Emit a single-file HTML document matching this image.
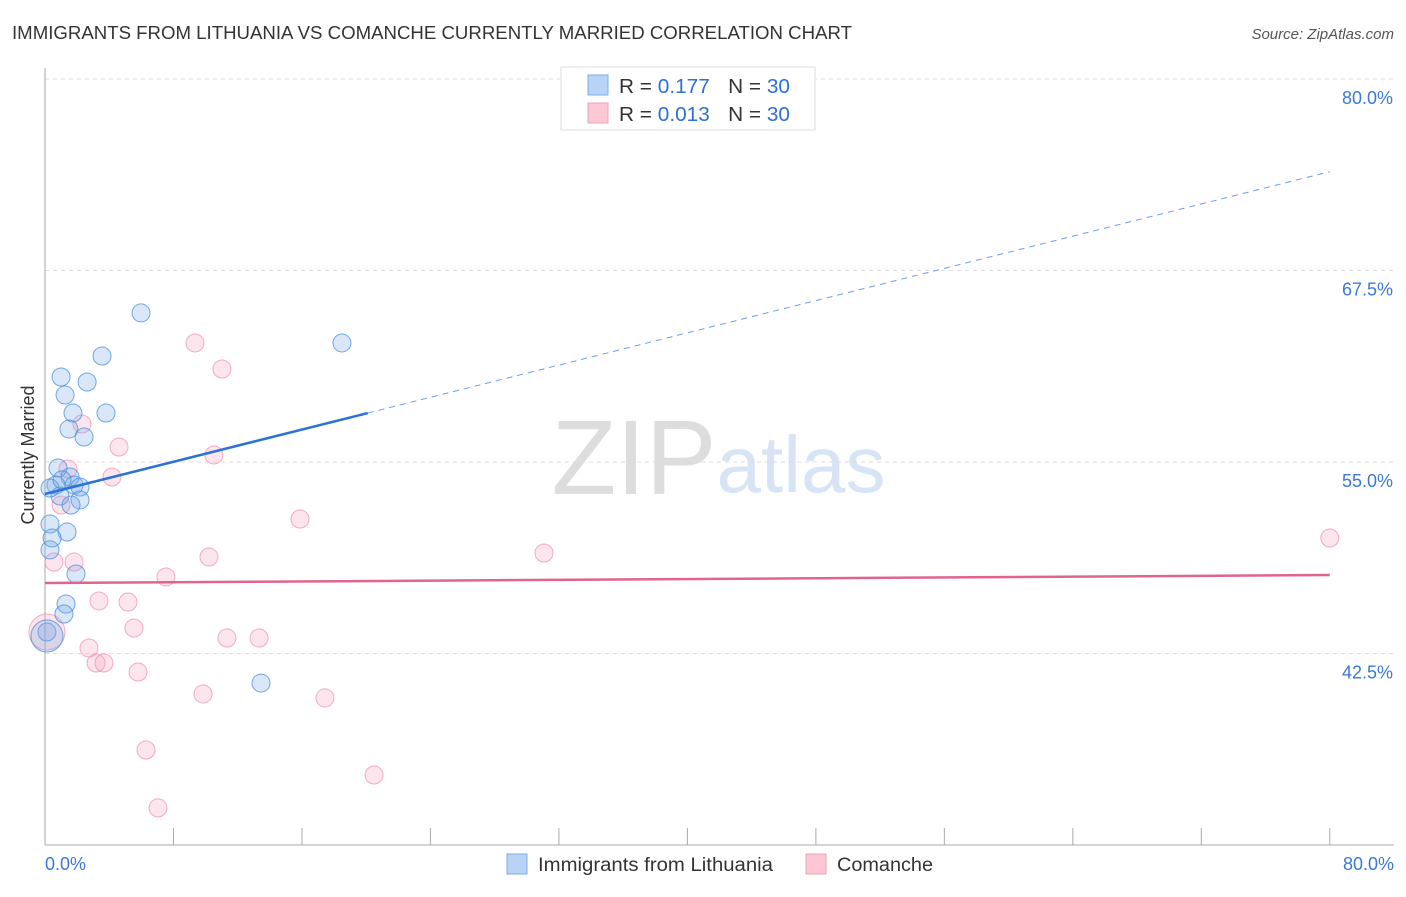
<!DOCTYPE html>
<html><head><meta charset="utf-8"><style>
body{margin:0;background:#fff;font-family:"Liberation Sans",sans-serif}
svg text{font-family:"Liberation Sans",sans-serif}
</style></head><body>
<svg id="c" width="1406" height="892" xmlns="http://www.w3.org/2000/svg">
<text x="12" y="39" font-size="18" fill="#333" textLength="840" lengthAdjust="spacingAndGlyphs">IMMIGRANTS FROM LITHUANIA VS COMANCHE CURRENTLY MARRIED CORRELATION CHART</text>
<text x="1394" y="39" font-size="15" fill="#555" font-style="italic" text-anchor="end">Source: ZipAtlas.com</text>
<text x="634" y="494" font-size="106" fill="#ddd" font-family="Liberation Serif" text-anchor="middle">ZIP</text>
<text x="801" y="492" font-size="80" fill="#d6e4f6" text-anchor="middle">atlas</text>
<g id="grid"></g><g id="axes"></g><g id="marks"></g>
<text transform="translate(34,455) rotate(-90)" font-size="18" fill="#333" text-anchor="middle">Currently Married</text>
<g>
<rect x="561" y="67" width="254" height="63" fill="#fff" stroke="#ddd"/>
<rect x="588" y="75" width="20" height="20" fill="#b8d3f5" stroke="#7aaee8"/>
<rect x="588" y="103" width="20" height="20" fill="#fcc8d6" stroke="#f0a0b8"/>
<text x="619" y="93" font-size="20" fill="#333" textLength="171" lengthAdjust="spacingAndGlyphs">R = <tspan fill="#2f6fd6">0.177</tspan>  <tspan dx="12">N = </tspan><tspan fill="#2f6fd6">30</tspan></text>
<text x="619" y="121" font-size="20" fill="#333" textLength="171" lengthAdjust="spacingAndGlyphs">R = <tspan fill="#2f6fd6">0.013</tspan>  <tspan dx="12">N = </tspan><tspan fill="#2f6fd6">30</tspan></text>
</g>
<g>
<rect x="507" y="854" width="20" height="20" fill="#b8d3f5" stroke="#7aaee8"/>
<text x="538" y="871" font-size="19" fill="#333" textLength="235" lengthAdjust="spacingAndGlyphs">Immigrants from Lithuania</text>
<rect x="806" y="854" width="20" height="20" fill="#fcc8d6" stroke="#f0a0b8"/>
<text x="837" y="871" font-size="19" fill="#333" textLength="96" lengthAdjust="spacingAndGlyphs">Comanche</text>
</g>
</svg>
<script>
const yTicks=[80,67.5,55,42.5];
const yTickLabels=["80.0%","67.5%","55.0%","42.5%"];
const xTickVals=[0,8,16,24,32,40,48,56,64,72,80];
const blueX=[5.98,3.55,1.00,2.62,1.25,1.74,3.80,1.49,2.43,0.81,1.56,0.68,1.81,2.18,0.93,2.18,1.62,0.31,1.37,0.44,0.31,1.93,1.31,1.18,0.12,18.49,13.45,0.31,1.06,0.12];
const blueY=[64.73,61.92,60.55,60.22,59.37,58.20,58.20,57.15,56.63,54.61,54.02,53.50,53.50,53.37,52.78,52.52,52.19,50.95,50.43,50.04,49.26,47.69,45.73,45.08,43.90,62.77,40.57,53.30,53.83,43.64];
const pinkX=[9.34,11.02,2.30,4.61,10.52,1.43,4.17,1.00,15.88,31.07,80.0,10.21,0.56,1.81,7.53,3.36,5.17,5.54,2.74,11.33,13.33,3.18,3.67,5.79,9.84,17.43,6.29,20.49,7.04,0.12];
const pinkY=[62.77,61.07,57.48,55.98,55.46,54.54,54.02,52.19,51.28,49.06,50.04,48.80,48.47,48.47,47.49,45.93,45.86,44.16,42.86,43.51,43.51,41.88,41.88,41.29,39.86,39.60,36.20,34.57,32.42,43.90];
const blueTrend=[52.91,0.263];
const pinkTrend=[47.1,0.0065];
const blueSolidEnd=20.1;
const X=v=>45+v*16.06, Y=v=>79+(80-v)*15.32;
const NS="http://www.w3.org/2000/svg";
function mk(p,t,a){const e=document.createElementNS(NS,t);for(const k in a)e.setAttribute(k,a[k]);document.getElementById(p).appendChild(e);return e;}
yTicks.forEach((v,i)=>{
 const g=mk('grid','line',{x1:45,x2:1394,y1:Y(v),y2:Y(v),stroke:'#ddd','stroke-dasharray':'4,4'});
 
 
 const t=mk('grid','text',{x:1393,y:Y(v)+25,'font-size':18,fill:'#3b78d8','text-anchor':'end'});
 t.textContent=yTickLabels[i];
 
 
});
let a=mk('axes','line',{x1:45,x2:45,y1:68,y2:845,stroke:'#aaa'});


a=mk('axes','line',{x1:45,x2:1394,y1:845,y2:845,stroke:'#aaa'});


xTickVals.forEach(v=>{const t=mk('axes','line',{x1:X(v),x2:X(v),y1:828,y2:845,stroke:'#aaa'});
 
 });
let l=mk('axes','text',{x:45,y:870,'font-size':18,fill:'#3b78d8'});l.textContent='0.0%';


l=mk('axes','text',{x:1394,y:870,'font-size':18,fill:'#3b78d8','text-anchor':'end'});l.textContent='80.0%';


pinkX.forEach((x,i)=>{const c=mk('marks','circle',{cx:X(x),cy:Y(pinkY[i]),r:i==29?18:9,fill:'rgba(248,170,195,0.3)',stroke:'rgba(236,140,170,0.7)','stroke-width':1});
 
 });
blueX.forEach((x,i)=>{const c=mk('marks','circle',{cx:X(x),cy:Y(blueY[i]),r:i==29?16:9,fill:'rgba(120,170,235,0.28)',stroke:'rgba(70,140,220,0.75)','stroke-width':1});
 
 });
const bt=v=>blueTrend[0]+blueTrend[1]*v, pt=v=>pinkTrend[0]+pinkTrend[1]*v;
let tl=mk('marks','line',{x1:X(0),y1:Y(bt(0)),x2:X(blueSolidEnd),y2:Y(bt(blueSolidEnd)),stroke:'#2a72d8','stroke-width':2.5});


tl=mk('marks','line',{x1:X(blueSolidEnd),y1:Y(bt(blueSolidEnd)),x2:X(80),y2:Y(bt(80)),stroke:'#6a9fe0','stroke-width':1,'stroke-dasharray':'6,5'});


tl=mk('marks','line',{x1:X(0),y1:Y(pt(0)),x2:X(80),y2:Y(pt(80)),stroke:'#e0648c','stroke-width':2.5});


</script>
</body></html>
